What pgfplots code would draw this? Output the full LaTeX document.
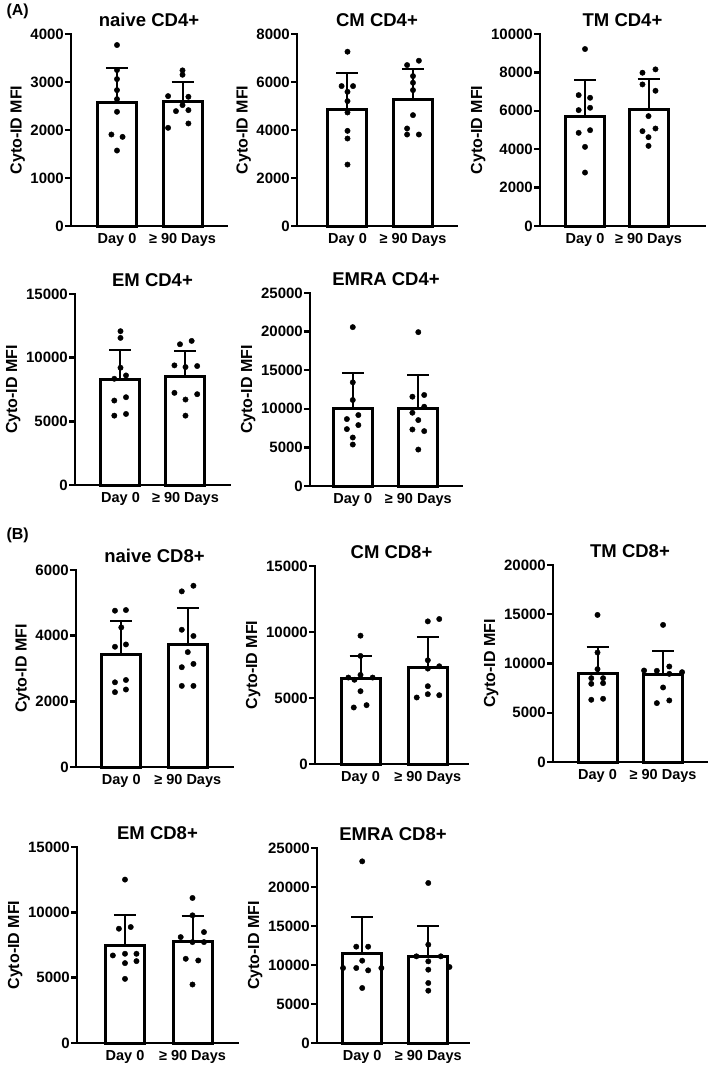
\documentclass[border=0pt]{standalone}
\usepackage{fontspec}
\setmainfont{Liberation Sans}
\usepackage{pgfplots}
\pgfplotsset{compat=1.18}

\pgfplotsset{
  panel/.style={
    scale only axis, anchor=south west,
    axis lines*=left, ymin=0, enlargelimits=false, clip=false,
    scaled y ticks=false,
    axis line style={line width=2.4pt, line cap=rect},
    tick align=outside, major tick length=6pt,
    ytick style={line width=2.4pt, black},
    xtick={0,1}, xticklabels={Day 0, ≥ 90 Days},
    xtick style={draw=none},
    xticklabel style={font=\bfseries\fontsize{14.5}{16}\selectfont, inner sep=2pt, yshift=1pt},
    yticklabel style={font=\bfseries\fontsize{15}{17}\selectfont, inner sep=1pt},
    /pgf/number format/assume math mode=true,
    /pgf/number format/1000 sep={},
    ylabel={Cyto-ID MFI},
    ylabel style={font=\bfseries\fontsize{16}{18}\selectfont},
    ylabel shift=1pt,
    title style={font=\bfseries\fontsize{18.5}{21}\selectfont, inner sep=0pt, yshift=1.5pt},
  },
  bar/.style={ybar, bar width=39pt, fill=white, draw=black, line width=3pt,
    error bars/.cd, y dir=plus, y explicit,
    error bar style={line width=2pt, black},
    error mark options={rotate=90, line width=2pt, mark size=11pt, black}},
  dots/.style={only marks, mark=*, mark size=2.7pt, black},
}

\begin{document}
\begin{tikzpicture}
\useasboundingbox (0pt,0pt) rectangle (709pt,-1065pt);
\node[anchor=west, font=\bfseries\fontsize{16}{18}\selectfont] at (3pt,-11pt) {(A)};
\node[anchor=west, font=\bfseries\fontsize{16}{18}\selectfont] at (3pt,-535pt) {(B)};

% naive CD4+
\begin{axis}[panel, at={(71pt,-226pt)}, width=156pt, height=192pt,
  xmin=-0.702, xmax=1.679, ymax=4000, ytick distance=1000, title={naive CD4+}]
\addplot[bar] coordinates {(0,2580) +- (0,720) (1,2590) +- (0,400)};
\addplot[dots] coordinates {
  (0,3770) (0,3249) (0,3061) (0,2831) (0,2643) (0,2379) (-0.085,1906) (0.085,1857) (0,1572)
  (1,3242) (1,3151) (0.78,2706) (1.09,2692) (1,2518) (0.9,2393) (1.09,2414) (0.78,2045) (1.09,2136)};
\end{axis}

% CM CD4+
\begin{axis}[panel, at={(297pt,-226pt)}, width=160pt, height=192pt,
  xmin=-0.771, xmax=1.672, ymax=8000, ytick distance=2000, title={CM CD4+}]
\addplot[bar] coordinates {(0,4850) +- (0,1530) (1,5290) +- (0,1250)};
\addplot[dots] coordinates {
  (0,7263) (-0.09,5830) (0.085,5830) (0,5593) (0,5203) (0,4730) (0,3965) (0,3645) (0,2560)
  (0.91,6706) (1.09,6887) (1,6247) (1,5969) (1,5663) (1,4619) (0.91,4063) (0.91,3812) (1.09,3812)};
\end{axis}

% TM CD4+
\begin{axis}[panel, at={(540pt,-226pt)}, width=165pt, height=192pt,
  xmin=-0.709, xmax=1.89, ymax=10000, ytick distance=2000, title={TM CD4+}]
\addplot[bar] coordinates {(0,5700) +- (0,1880) (1,6090) +- (0,1560)};
\addplot[dots] coordinates {
  (0,9217) (-0.1,6817) (0.08,6678) (-0.1,6035) (0.08,6157) (-0.1,4852) (0.08,4991) (0,4122) (0,2783)
  (0.905,7983) (1.11,8157) (0.905,7374) (1.11,7043) (1,5722) (0.905,4939) (1.11,5078) (1,4626) (1,4174)};
\end{axis}

% EM CD4+
\begin{axis}[panel, at={(75pt,-485pt)}, width=155pt, height=191pt,
  xmin=-0.7, xmax=1.685, ymax=15000, ytick distance=5000, title={EM CD4+}]
\addplot[bar] coordinates {(0,8260) +- (0,2370) (1,8540) +- (0,1990)};
\addplot[dots] coordinates {
  (0,12079) (0,11553) (0,9211) (-0.095,8342) (0.085,8605) (-0.095,6632) (0.085,6895) (-0.095,5447) (0.085,5579)
  (0.915,11053) (1.095,11316) (0.83,9395) (1,9263) (1.18,9342) (0.83,7237) (1.18,7132) (1,6711) (1,5447)};
\end{axis}

% EMRA CD4+
\begin{axis}[panel, at={(310pt,-486pt)}, width=152pt, height=193pt,
  xmin=-0.653, xmax=1.667, ymax=25000, ytick distance=5000, title={EMRA CD4+}]
\addplot[bar] coordinates {(0,9990) +- (0,4610) (1,10080) +- (0,4310)};
\addplot[dots] coordinates {
  (0,20580) (0,13430) (0,11140) (-0.09,8670) (0.085,9190) (0.085,7890) (-0.09,7370) (0,6280) (0,5370)
  (1,19930) (0.91,11570) (1.09,11790) (0.91,9490) (1.09,10270) (1,8540) (0.91,7320) (1.09,7110) (1,4720)};
\end{axis}

% naive CD8+
\begin{axis}[panel, at={(76pt,-767pt)}, width=157pt, height=197pt,
  xmin=-0.681, xmax=1.68, ymax=6000, ytick distance=2000, title={naive CD8+}]
\addplot[bar] coordinates {(0,3440) +- (0,1010) (1,3720) +- (0,1130)};
\addplot[dots] coordinates {
  (-0.095,4761) (0.07,4781) (0,4252) (-0.095,3662) (0.07,3733) (-0.095,2580) (0.07,2650) (-0.095,2280) (0.07,2360)
  (0.91,5350) (1.085,5520) (0.91,4180) (1.085,3990) (1,3500) (0.91,3040) (1.085,3140) (0.91,2470) (1.085,2470)};
\end{axis}

% CM CD8+
\begin{axis}[panel, at={(315pt,-764pt)}, width=153pt, height=198pt,
  xmin=-0.676, xmax=1.597, ymax=15000, ytick distance=5000, title={CM CD8+}]
\addplot[bar] coordinates {(0,6450) +- (0,1740) (1,7290) +- (0,2310)};
\addplot[dots] coordinates {
  (0,9723) (0,8186) (-0.18,6549) (0,6751) (0.18,6549) (-0.09,6380) (0,5516) (-0.1,4282) (0.09,4458)
  (1,10806) (1.17,10982) (1,7859) (1.17,7406) (1,7229) (1,5894) (0.835,5038) (1,5290) (1.17,5214)};
\end{axis}

% TM CD8+
\begin{axis}[panel, at={(553pt,-762pt)}, width=154pt, height=197pt,
  xmin=-0.679, xmax=1.67, ymax=20000, ytick distance=5000, title={TM CD8+}]
\addplot[bar] coordinates {(0,9020) +- (0,2670) (1,8890) +- (0,2330)};
\addplot[dots] coordinates {
  (0,14932) (0,11115) (0,9426) (-0.095,8514) (0.085,8514) (-0.095,7939) (0.085,8007) (-0.095,6318) (0.085,6419)
  (1,13919) (0.71,9291) (0.905,9257) (1.095,9696) (1.29,9122) (1,7568) (0.905,5980) (1.095,6250) (1.095,8950)};
\end{axis}

% EM CD8+
\begin{axis}[panel, at={(77pt,-1043pt)}, width=161pt, height=196pt,
  xmin=-0.711, xmax=1.674, ymax=15000, ytick distance=5000, title={EM CD8+}]
\addplot[bar] coordinates {(0,7500) +- (0,2270) (1,7790) +- (0,1930)};
\addplot[dots] coordinates {
  (0,12506) (-0.09,8747) (0.085,8875) (-0.18,6701) (0,6829) (0.17,6829) (0,6113) (0.17,6266) (0,4910)
  (1,11100) (1,9770) (0.825,8107) (1.17,8491) (1,7724) (1.17,7724) (0.9,6445) (1.085,6317) (1,4476)};
\end{axis}

% EMRA CD8+
\begin{axis}[panel, at={(317pt,-1043pt)}, width=152pt, height=195pt,
  xmin=-0.684, xmax=1.616, ymax=25000, ytick distance=5000, title={EMRA CD8+}]
\addplot[bar] coordinates {(0,11530) +- (0,4670) (1,11040) +- (0,3960)};
\addplot[dots] coordinates {
  (0,23291) (-0.09,12350) (0.09,12350) (0,10556) (-0.29,9615) (-0.09,9615) (0.09,9316) (0.29,9615) (0,7051)
  (1,20513) (1,12607) (0.82,11111) (1.19,11111) (1,10470) (1.32,9744) (1,9402) (1,7692) (1,6709)};
\end{axis}
\end{tikzpicture}
\end{document}
